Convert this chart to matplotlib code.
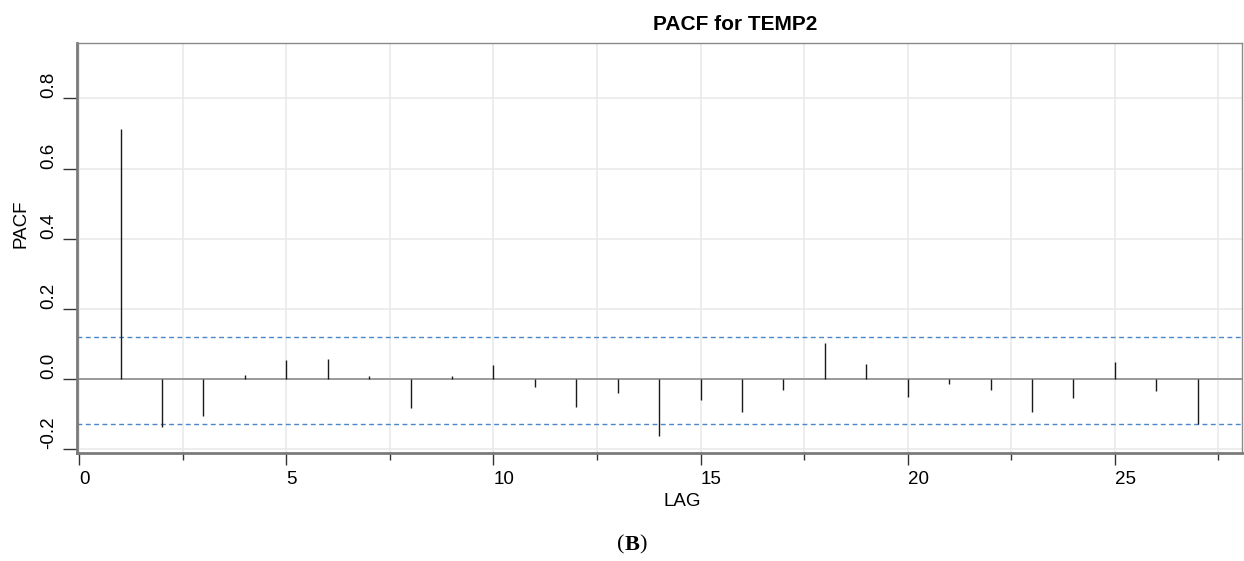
import numpy as np
import matplotlib.pyplot as plt

# PACF values, lags 1..27
lags = np.arange(1, 28)
pacf = [0.714, -0.137, -0.104, 0.011, 0.054, 0.058, 0.009, -0.082, 0.008,
        0.041, -0.022, -0.079, -0.039, -0.162, -0.059, -0.093, -0.031, 0.103,
        0.043, -0.051, -0.013, -0.031, -0.095, -0.055, 0.050, -0.033, -0.127]
conf_upper = 0.119
conf_lower = -0.128

W, H = 1244, 561
fig = plt.figure(figsize=(W / 100, H / 100), dpi=100)
ax = fig.add_axes([77 / W, 1 - 453.3 / H, (1241.7 - 77) / W, (453.3 - 43.3) / H])

ax.set_xlim(-0.05, 28.06)
ax.set_ylim(-0.2114, 0.957)

# grid
ax.set_xticks(np.arange(0, 26, 5))
ax.set_xticks(np.arange(2.5, 28, 5), minor=True)
ax.set_yticks([-0.2, 0.0, 0.2, 0.4, 0.6, 0.8])
ax.grid(True, which='both', axis='x', color='#e8e8e8', lw=1.1)
ax.grid(True, which='major', axis='y', color='#e8e8e8', lw=1.1)
ax.set_axisbelow(True)

ax.axhline(0, color='#9a9a9a', lw=1.4, zorder=2)
ax.vlines(lags, 0, pacf, color='#1a1a1a', lw=1.0, zorder=3)
ax.axhline(conf_upper, color='#4a86c8', lw=1.0, ls=(0, (3.5, 2.5)), zorder=2)
ax.axhline(conf_lower, color='#4a86c8', lw=1.0, ls=(0, (3.5, 2.5)), zorder=2)

for s in ['left', 'bottom']:
    ax.spines[s].set_color('#7a7a7a')
    ax.spines[s].set_linewidth(2.0)
for s in ['top', 'right']:
    ax.spines[s].set_color('#8a8a8a')
    ax.spines[s].set_linewidth(1.0)

ax.tick_params(axis='x', which='major', length=8.5, width=1.0, color='#333333',
               labelsize=13.5, pad=4)
ax.tick_params(axis='x', which='minor', length=5, width=1.0, color='#333333')
ax.tick_params(axis='y', length=10, width=1.0, color='#333333',
               labelsize=13.5, labelrotation=90, pad=4)
ax.set_xticklabels([str(v) for v in range(0, 26, 5)], fontfamily='Liberation Sans')
ax.set_yticklabels(['-0.2', '0.0', '0.2', '0.4', '0.6', '0.8'], fontfamily='Liberation Sans')
for t in ax.get_xticklabels():
    t.set_ha('left')
for t in ax.get_yticklabels():
    t.set_va('bottom')

fig.text(735 / W, 1 - 24 / H, 'PACF for TEMP2', ha='center', va='center',
         fontsize=15, fontweight='bold', fontfamily='Liberation Sans')
fig.text(682 / W, 1 - 502 / H, 'LAG', ha='center', va='center',
         fontsize=13.5, fontfamily='Liberation Sans')
fig.text(21 / W, 1 - 224 / H, 'PACF', ha='center', va='center', rotation=90,
         fontsize=13.5, fontfamily='Liberation Sans')

# panel label "(B)" with bold B
fig.text((632 - 7.5) / W, 1 - 545 / H, '(', ha='right', va='center',
         fontsize=16, fontfamily='Liberation Serif')
fig.text(632 / W, 1 - 545 / H, 'B', ha='center', va='center',
         fontsize=16, fontweight='bold', fontfamily='Liberation Serif')
fig.text((632 + 7.5) / W, 1 - 545 / H, ')', ha='left', va='center',
         fontsize=16, fontfamily='Liberation Serif')

fig.savefig('out.png', dpi=100)
